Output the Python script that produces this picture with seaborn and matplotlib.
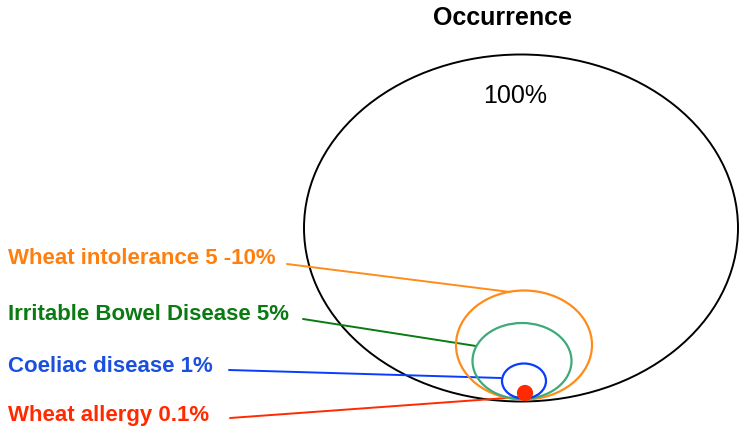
import matplotlib.pyplot as plt
from matplotlib.patches import Ellipse
import seaborn as sns
import pandas as pd

sns.set_style("white")
plt.rcParams['font.family'] = ['Liberation Sans', 'DejaVu Sans']
plt.rcParams['text.color'] = 'black'

# -----------------------------
# Data
# -----------------------------
labels = ["Wheat intolerance 5 -10%", "Irritable Bowel Disease 5%",
          "Coeliac disease 1%", "Wheat allergy 0.1%"]
text_colors = ["#FF7F0E", "#0A7A12", "#1A4FE0", "#FF2A00"]
ring_colors = ["#FF8C1A", "#3DAA7A", "#0A3CFF", "#FF2A00"]
line_colors = ["#FF8C1A", "#0A7A12", "#0A3CFF", "#FF2A00"]
total_label = "100%"

# ellipse geometry in pixel space (centre x, centre y, width, height)
outer = (521, 228, 434, 347)
ring_cx = [524, 522, 524, 525]
ring_cy = [345, 361, 381, 393]
ring_w = [136, 99, 44, 14]
ring_h = [109, 76, 35, 14]

# label anchor and leader line end points
label_y = [259, 315, 367, 416]
line_x0 = [287, 303, 229, 230]
line_y0 = [264, 319, 370, 418]
line_x1 = [510, 476, 501, 520]
line_y1 = [292, 346, 378, 397]

fig = plt.figure(figsize=(7.4, 4.29), dpi=100)
ax = fig.add_axes([0, 0, 1, 1])
ax.set_xlim(0, 740)
ax.set_ylim(429, 0)
ax.axis("off")

ax.add_patch(Ellipse(outer[:2], outer[2], outer[3], fill=False,
                     edgecolor="black", lw=1.4))

for i in range(len(labels)):
    filled = i == len(labels) - 1
    ax.add_patch(Ellipse((ring_cx[i], ring_cy[i]), ring_w[i], ring_h[i],
                         fill=filled, facecolor=ring_colors[i],
                         edgecolor=ring_colors[i], lw=1.6, zorder=3))
    seg = pd.DataFrame({"x": [line_x0[i], line_x1[i]], "y": [line_y0[i], line_y1[i]]})
    sns.lineplot(data=seg, x="x", y="y", ax=ax, color=line_colors[i],
                 lw=1.4, sort=False, estimator=None)
    ax.text(8, label_y[i], labels[i], color=text_colors[i], fontsize=16,
            fontweight="bold", va="center", ha="left")

ax.text(503, 18, "Occurrence", fontsize=18, fontweight="bold",
        ha="center", va="center")
ax.text(515, 96, total_label, fontsize=18, ha="center", va="center")

fig.savefig("out.png", dpi=100)
